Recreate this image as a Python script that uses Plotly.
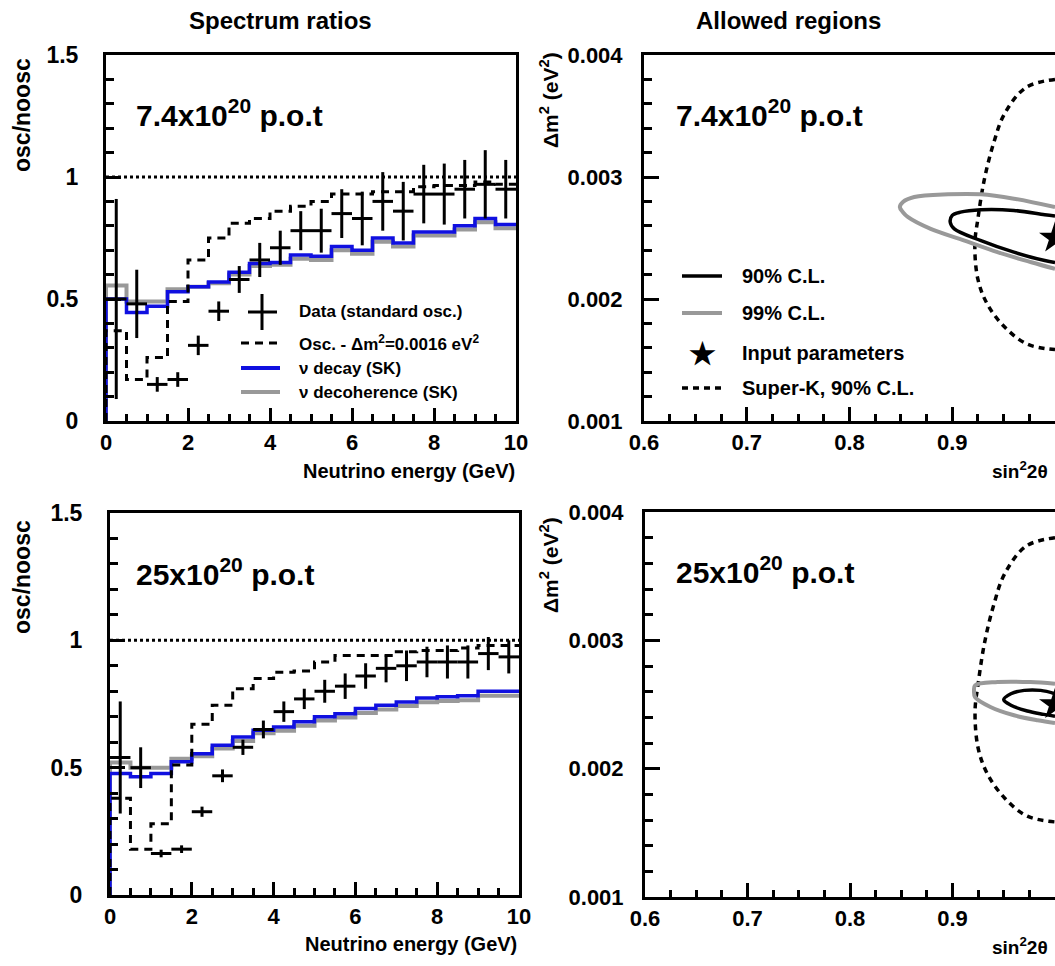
import numpy as np
import plotly.graph_objects as go

# ---------------- data ----------------
bin_edges = np.arange(0, 10.0001, 0.5)
bin_centers = (bin_edges[:-1] + bin_edges[1:]) / 2
bin_half = 0.25

# 7.4e20 p.o.t spectrum ratios
data_74 = [0.50, 0.48, 0.15, 0.17, 0.31, 0.45, 0.58, 0.66, 0.71, 0.78,
           0.78, 0.85, 0.83, 0.90, 0.86, 0.93, 0.93, 0.95, 0.97, 0.95]
err_74 = [0.41, 0.14, 0.03, 0.03, 0.04, 0.04, 0.055, 0.07, 0.07, 0.08,
          0.09, 0.10, 0.11, 0.12, 0.12, 0.12, 0.125, 0.12, 0.14, 0.12]
osc_74 = [0.37, 0.17, 0.26, 0.49, 0.66, 0.75, 0.81, 0.83, 0.86, 0.88,
          0.90, 0.93, 0.93, 0.94, 0.94, 0.96, 0.965, 0.965, 0.98, 0.97]
decay_74 = [0.50, 0.445, 0.47, 0.53, 0.55, 0.57, 0.61, 0.645, 0.65, 0.68,
            0.675, 0.715, 0.70, 0.75, 0.73, 0.775, 0.775, 0.80, 0.83, 0.805]
decoh_74 = [0.555, 0.49, 0.49, 0.54, 0.55, 0.565, 0.60, 0.635, 0.64, 0.665,
            0.66, 0.70, 0.685, 0.735, 0.715, 0.76, 0.76, 0.785, 0.815, 0.79]

# 25e20 p.o.t spectrum ratios
data_25 = [0.54, 0.50, 0.163, 0.18, 0.327, 0.468, 0.58, 0.65, 0.72, 0.77,
           0.80, 0.82, 0.86, 0.89, 0.90, 0.915, 0.915, 0.915, 0.948, 0.935]
err_25 = [0.22, 0.08, 0.015, 0.015, 0.02, 0.025, 0.03, 0.035, 0.04, 0.04,
          0.045, 0.05, 0.05, 0.055, 0.06, 0.06, 0.065, 0.065, 0.065, 0.065]
osc_25 = [0.38, 0.18, 0.28, 0.51, 0.67, 0.745, 0.81, 0.85, 0.875, 0.88,
          0.915, 0.94, 0.94, 0.94, 0.955, 0.96, 0.96, 0.97, 0.98, 0.98]
decay_25 = [0.477, 0.464, 0.477, 0.523, 0.555, 0.588, 0.62, 0.647, 0.66, 0.68,
            0.70, 0.712, 0.732, 0.745, 0.758, 0.774, 0.778, 0.782, 0.80, 0.80]
decoh_25 = [0.52, 0.50, 0.50, 0.535, 0.545, 0.575, 0.605, 0.635, 0.645, 0.665,
            0.685, 0.697, 0.715, 0.728, 0.742, 0.757, 0.762, 0.765, 0.782, 0.782]

# allowed regions (sin^2 2theta, dm^2 [eV^2])
cl99_74_x = [1.0, 0.960, 0.928, 0.896, 0.863, 0.852, 0.849, 0.852, 0.857, 0.879, 0.912, 0.944, 0.977, 1.0]
cl99_74_y = [2.753e-3, 2.822e-3, 2.858e-3, 2.858e-3, 2.836e-3, 2.795e-3, 2.753e-3, 2.712e-3,
             2.671e-3, 2.575e-3, 2.479e-3, 2.384e-3, 2.301e-3, 2.247e-3]
cl90_74_x = [1.0, 0.990, 0.960, 0.928, 0.908, 0.900, 0.898, 0.902, 0.928, 0.960, 0.990, 1.0]
cl90_74_y = [2.68e-3, 2.69e-3, 2.726e-3, 2.732e-3, 2.712e-3, 2.685e-3, 2.630e-3, 2.575e-3,
             2.479e-3, 2.384e-3, 2.315e-3, 2.30e-3]
cl99_25_x = [1.0, 0.976, 0.944, 0.922, 0.921, 0.922, 0.937, 0.960, 0.983, 1.0]
cl99_25_y = [2.662e-3, 2.675e-3, 2.675e-3, 2.649e-3, 2.605e-3, 2.558e-3, 2.481e-3, 2.416e-3,
             2.377e-3, 2.356e-3]
cl90_25_x = [1.0, 0.986, 0.970, 0.957, 0.950, 0.957, 0.973, 0.989, 1.0]
cl90_25_y = [2.584e-3, 2.610e-3, 2.610e-3, 2.584e-3, 2.538e-3, 2.494e-3, 2.449e-3, 2.423e-3, 2.408e-3]
sk90_x = [1.0, 0.972, 0.951, 0.940, 0.931, 0.925, 0.922, 0.925, 0.934, 0.951, 0.973, 1.0]
sk90_y = [3.80e-3, 3.735e-3, 3.52e-3, 3.27e-3, 2.97e-3, 2.66e-3, 2.45e-3, 2.16e-3,
          1.96e-3, 1.77e-3, 1.63e-3, 1.585e-3]
input_x = [1.0]
input_y = [0.0025]

# tick labels
ratio_ticks = [0, 0.5, 1, 1.5]
ratio_ticktext = ["0", "0.5", "1", "1.5"]
energy_ticks = [0, 2, 4, 6, 8, 10]
sin_ticks = [0.6, 0.7, 0.8, 0.9, 1.0]
sin_ticktext = ["0.6", "0.7", "0.8", "0.9", "1"]
dm_ticks = [0.001, 0.002, 0.003, 0.004]
dm_ticktext = ["0.001", "0.002", "0.003", "0.004"]

# ---------------- style ----------------
W, H = 1055, 966
FONT = "Liberation Sans"
BLUE = "#1010e0"
GRAY = "#999999"


def px(x):
    return x / W


def py(y):
    return 1 - y / H


def step_xy(vals):
    x = np.concatenate([[bin_edges[0]], bin_edges])
    y = np.concatenate([[0.0], vals, [vals[-1]]])
    return x, y


fig = go.Figure()

panels = [
    ("x", "y", data_74, err_74, osc_74, decay_74, decoh_74),
    ("x3", "y3", data_25, err_25, osc_25, decay_25, decoh_25),
]
for xa, ya, dat, err, osc, dec, dch in panels:
    sx, sy = step_xy(dch)
    fig.add_trace(go.Scatter(x=sx, y=sy, mode="lines", line=dict(color=GRAY, width=4, shape="hv"),
                             xaxis=xa, yaxis=ya, showlegend=False, hoverinfo="skip"))
    sx, sy = step_xy(dec)
    fig.add_trace(go.Scatter(x=sx, y=sy, mode="lines", line=dict(color=BLUE, width=3.5, shape="hv"),
                             xaxis=xa, yaxis=ya, showlegend=False, hoverinfo="skip"))
    sx, sy = step_xy(osc)
    fig.add_trace(go.Scatter(x=sx, y=sy, mode="lines",
                             line=dict(color="black", width=3, shape="hv", dash="8px,6px"),
                             xaxis=xa, yaxis=ya, showlegend=False, hoverinfo="skip"))
    fig.add_trace(go.Scatter(x=bin_centers, y=dat, mode="markers",
                             marker=dict(size=1, color="black"),
                             error_y=dict(type="data", array=err, thickness=3, width=0, color="black"),
                             error_x=dict(type="constant", value=bin_half, thickness=3, width=0, color="black"),
                             xaxis=xa, yaxis=ya, showlegend=False))

regions = [
    ("x2", "y2", cl99_74_x, cl99_74_y, cl90_74_x, cl90_74_y),
    ("x4", "y4", cl99_25_x, cl99_25_y, cl90_25_x, cl90_25_y),
]
for xa, ya, x99, y99, x90, y90 in regions:
    fig.add_trace(go.Scatter(x=sk90_x, y=sk90_y, mode="lines",
                             line=dict(color="black", width=3.5, dash="6px,5px", shape="spline"),
                             xaxis=xa, yaxis=ya, showlegend=False))
    fig.add_trace(go.Scatter(x=x99, y=y99, mode="lines", line=dict(color=GRAY, width=4, shape="spline"),
                             xaxis=xa, yaxis=ya, showlegend=False))
    fig.add_trace(go.Scatter(x=x90, y=y90, mode="lines", line=dict(color="black", width=3.5, shape="spline"),
                             xaxis=xa, yaxis=ya, showlegend=False))
    fig.add_trace(go.Scatter(x=input_x, y=input_y, mode="markers",
                             marker=dict(symbol="star", size=24, color="black"),
                             xaxis=xa, yaxis=ya, showlegend=False, cliponaxis=False))


def axis_common(size):
    return dict(showline=True, linewidth=3, linecolor="black", mirror=True, automargin=False,
                ticks="inside", tickwidth=3, tickcolor="black", showgrid=False, zeroline=False,
                tickfont=dict(family=FONT, size=size, color="black", weight="bold"))


layout = dict(width=W, height=H, margin=dict(l=0, r=0, t=0, b=0, pad=0, autoexpand=False),
              paper_bgcolor="white", plot_bgcolor="white", showlegend=False, template="none")

for xk, yk, xd, yd, anchor_x, anchor_y in [
    ("xaxis", "yaxis", (106, 516), (55, 421), "y", "x"),
    ("xaxis3", "yaxis3", (110, 519), (513, 895), "y3", "x3"),
]:
    layout[xk] = dict(axis_common(22), domain=[px(xd[0]), px(xd[1])], anchor=anchor_x, range=[0, 10],
                      tickvals=energy_ticks, ticklen=13, ticklabelstandoff=0,
                      minor=dict(dtick=0.5, ticks="inside", ticklen=7, tickwidth=3, tickcolor="black"))
    layout[yk] = dict(axis_common(23), domain=[py(yd[1]), py(yd[0])], anchor=anchor_y, range=[0, 1.5],
                      tickvals=ratio_ticks, ticktext=ratio_ticktext, ticklen=15, ticklabelstandoff=20,
                      minor=dict(dtick=0.1, ticks="inside", ticklen=8, tickwidth=3, tickcolor="black"))

for xk, yk, xd, yd, anchor_x, anchor_y in [
    ("xaxis2", "yaxis2", (644, 1055), (55, 421), "y2", "x2"),
    ("xaxis4", "yaxis4", (645, 1055), (512, 897), "y4", "x4"),
]:
    layout[xk] = dict(axis_common(22), domain=[px(xd[0]), px(xd[1])], anchor=anchor_x, range=[0.6, 1.0],
                      tickvals=sin_ticks, ticktext=sin_ticktext, ticklen=14, ticklabelstandoff=0,
                      minor=dict(dtick=0.025, ticks="inside", ticklen=7, tickwidth=3, tickcolor="black"))
    layout[yk] = dict(axis_common(22), domain=[py(yd[1]), py(yd[0])], anchor=anchor_y, range=[0.001, 0.004],
                      tickvals=dm_ticks, ticktext=dm_ticktext, ticklen=15, ticklabelstandoff=14,
                      mirror=False,
                      minor=dict(dtick=0.0002, ticks="inside", ticklen=8, tickwidth=3, tickcolor="black"))

fig.update_layout(**layout)

shapes = []
for xa, ya in [("x", "y"), ("x3", "y3")]:
    shapes.append(dict(type="line", xref=xa, yref=ya, x0=0, x1=10, y0=1, y1=1,
                       line=dict(color="black", width=3, dash="dot")))

shapes += [
    # left legend samples
    dict(type="line", xref="paper", yref="paper", x0=px(248), x1=px(277), y0=py(312), y1=py(312),
         line=dict(color="black", width=3)),
    dict(type="line", xref="paper", yref="paper", x0=px(262), x1=px(262), y0=py(294), y1=py(330),
         line=dict(color="black", width=3)),
    dict(type="line", xref="paper", yref="paper", x0=px(241), x1=px(280), y0=py(343), y1=py(343),
         line=dict(color="black", width=3, dash="8px,6px")),
    dict(type="line", xref="paper", yref="paper", x0=px(241), x1=px(280), y0=py(368), y1=py(368),
         line=dict(color=BLUE, width=4)),
    dict(type="line", xref="paper", yref="paper", x0=px(241), x1=px(280), y0=py(392), y1=py(392),
         line=dict(color=GRAY, width=4)),
    # right legend samples
    dict(type="line", xref="paper", yref="paper", x0=px(682), x1=px(722), y0=py(276), y1=py(276),
         line=dict(color="black", width=3.5)),
    dict(type="line", xref="paper", yref="paper", x0=px(682), x1=px(722), y0=py(313), y1=py(313),
         line=dict(color=GRAY, width=4)),
    dict(type="line", xref="paper", yref="paper", x0=px(682), x1=px(722), y0=py(388), y1=py(388),
         line=dict(color="black", width=3.5, dash="6px,5px")),
]
fig.update_layout(shapes=shapes)


def ann(text, x, y, size, xanchor="left", yanchor="middle", angle=0):
    return dict(text=text, x=px(x), y=py(y), xref="paper", yref="paper", showarrow=False,
                xanchor=xanchor, yanchor=yanchor, textangle=angle,
                font=dict(family=FONT, size=size, color="black", weight="bold"))


annotations = [
    ann("Spectrum ratios", 280, 21, 24, xanchor="center"),
    ann("Allowed regions", 788, 21, 24, xanchor="center"),
    ann("7.4x10<sup>20</sup> p.o.t", 134, 113, 30),
    ann("7.4x10<sup>20</sup> p.o.t", 674, 113, 30),
    ann("25x10<sup>20</sup> p.o.t", 134, 572, 30),
    ann("25x10<sup>20</sup> p.o.t", 674, 570, 30),
    ann("osc/noosc", 22, 115, 23, xanchor="center", angle=-90),
    ann("osc/noosc", 22, 577, 23, xanchor="center", angle=-90),
    ann("Δm<sup>2</sup> (eV<sup>2</sup>)", 549, 100, 21, xanchor="center", angle=-90),
    ann("Δm<sup>2</sup> (eV<sup>2</sup>)", 549, 565, 21, xanchor="center", angle=-90),
    ann("Neutrino energy (GeV)", 517, 471, 20, xanchor="right"),
    ann("Neutrino energy (GeV)", 519, 944, 20, xanchor="right"),
    ann("sin<sup>2</sup>2θ", 1050, 470, 19, xanchor="right"),
    ann("sin<sup>2</sup>2θ", 1050, 946, 19, xanchor="right"),
    ann("Data (standard osc.)", 297, 312, 17),
    ann("Osc. - Δm<sup>2</sup>=0.0016 eV<sup>2</sup>", 297, 343, 17),
    ann("ν decay (SK)", 297, 368, 17),
    ann("ν decoherence (SK)", 297, 392, 17),
    ann("90% C.L.", 740, 276, 20),
    ann("99% C.L.", 740, 313, 20),
    ann("★", 702, 353, 30, xanchor="center"),
    ann("Input parameters", 740, 353, 20),
    ann("Super-K, 90% C.L.", 740, 388, 20),
]
fig.update_layout(annotations=annotations)

# remove the default page margin so the 1055x966 figure fills the window exactly
fig.write_html("out.html", config={"displayModeBar": False},
               post_script="document.body.style.margin='0';document.body.style.overflow='hidden';")
